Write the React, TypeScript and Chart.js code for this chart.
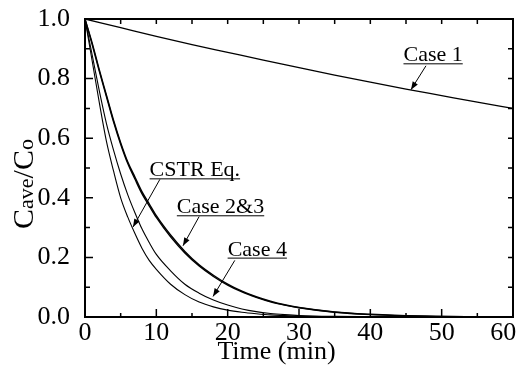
import React, { useEffect, useRef } from "react";
import { Chart, registerables } from "chart.js";
Chart.register(...registerables);

// Time axis (min) for the fast-decaying curves
const timeFine = [0, 1, 2, 3, 4, 5, 6, 7, 8, 9, 10, 12, 14, 16, 18, 20, 22, 24, 26, 28, 30, 35, 40, 45, 50, 55, 60];
const cstrEq = [1.0, 0.86, 0.72, 0.59, 0.49, 0.4, 0.335, 0.28, 0.23, 0.19, 0.16, 0.11, 0.075, 0.05, 0.034, 0.023, 0.016, 0.011, 0.007, 0.005, 0.003, 0.001, 0, 0, 0, 0, 0];
const case4 = [1.0, 0.88, 0.76, 0.65, 0.56, 0.48, 0.41, 0.35, 0.295, 0.25, 0.21, 0.155, 0.11, 0.08, 0.057, 0.04, 0.027, 0.018, 0.012, 0.008, 0.005, 0.002, 0.001, 0, 0, 0, 0];
const case2 = [1.0, 0.92, 0.83, 0.745, 0.66, 0.585, 0.52, 0.47, 0.42, 0.38, 0.34, 0.275, 0.22, 0.175, 0.14, 0.11, 0.087, 0.068, 0.053, 0.041, 0.032, 0.017, 0.009, 0.004, 0.002, 0.001, 0];
const case3 = [1.0, 0.915, 0.825, 0.74, 0.655, 0.58, 0.515, 0.463, 0.413, 0.373, 0.334, 0.269, 0.215, 0.171, 0.136, 0.107, 0.084, 0.066, 0.051, 0.04, 0.031, 0.016, 0.008, 0.004, 0.002, 0.001, 0];

// Case 1 (slow decay)
const timeCoarse = [0, 5, 10, 15, 20, 25, 30, 35, 40, 45, 50, 55, 60];
const case1 = [1.0, 0.971, 0.942, 0.914, 0.888, 0.862, 0.837, 0.812, 0.788, 0.765, 0.743, 0.721, 0.7];

// Annotations in data units: text centre/baseline, arrow start and tip
const annotations = [
  { text: "Case 1", tx: 48.8, ty: 0.858, ax: 47.8, ay: 0.843, bx: 45.7, by: 0.763 },
  { text: "CSTR Eq.", tx: 15.4, ty: 0.472, ax: 10.5, ay: 0.462, bx: 6.73, by: 0.302 },
  { text: "Case 2&3", tx: 19.0, ty: 0.348, ax: 16.0, ay: 0.337, bx: 13.74, by: 0.239 },
  { text: "Case 4", tx: 24.15, ty: 0.206, ax: 21.0, ay: 0.19, bx: 17.95, by: 0.069 },
];

const SERIF = "'Liberation Serif', 'Times New Roman', serif";

const pts = (xs: number[], ys: number[]) => xs.map((x, i) => ({ x, y: ys[i] }));

const framePlugin = {
  id: "framePlugin",
  afterDraw(chart: any) {
    const ctx = chart.ctx;
    const xs = chart.scales.x;
    const ys = chart.scales.y;
    const { left, right, top, bottom } = chart.chartArea;
    ctx.save();
    ctx.strokeStyle = "#000";
    // ticks
    ctx.lineWidth = 1.5;
    ctx.beginPath();
    for (let v = xs.min; v <= xs.max + 1e-9; v += 5) {
      const p = xs.getPixelForValue(v);
      const major = Math.abs(v % 10) < 1e-9;
      ctx.moveTo(p, bottom);
      ctx.lineTo(p, bottom - (major ? 8 : 4));
      ctx.moveTo(p, top);
      ctx.lineTo(p, top + 5);
    }
    for (let i = 0; i <= 10; i++) {
      const v = ys.min + i * 0.1;
      const p = ys.getPixelForValue(v);
      const major = i % 2 === 0;
      ctx.moveTo(left, p);
      ctx.lineTo(left + (major ? 8 : 5), p);
      ctx.moveTo(right, p);
      ctx.lineTo(right - 5, p);
    }
    ctx.stroke();
    // frame
    ctx.lineWidth = 2;
    ctx.strokeRect(left, top, right - left, bottom - top);

    // annotations
    ctx.font = `22px ${SERIF}`;
    ctx.fillStyle = "#000";
    ctx.textAlign = "center";
    ctx.textBaseline = "alphabetic";
    for (const a of annotations) {
      const tx = xs.getPixelForValue(a.tx);
      const ty = ys.getPixelForValue(a.ty);
      ctx.fillText(a.text, tx, ty);
      const w = ctx.measureText(a.text).width;
      ctx.lineWidth = 1;
      ctx.beginPath();
      ctx.moveTo(tx - w / 2, ty + 2.5);
      ctx.lineTo(tx + w / 2, ty + 2.5);
      ctx.stroke();
      const x1 = xs.getPixelForValue(a.ax);
      const y1 = ys.getPixelForValue(a.ay);
      const x2 = xs.getPixelForValue(a.bx);
      const y2 = ys.getPixelForValue(a.by);
      ctx.beginPath();
      ctx.moveTo(x1, y1);
      ctx.lineTo(x2, y2);
      ctx.stroke();
      const ang = Math.atan2(y2 - y1, x2 - x1);
      const L = 8, W = 3;
      ctx.beginPath();
      ctx.moveTo(x2, y2);
      ctx.lineTo(x2 - L * Math.cos(ang) + W * Math.sin(ang), y2 - L * Math.sin(ang) - W * Math.cos(ang));
      ctx.lineTo(x2 - L * Math.cos(ang) - W * Math.sin(ang), y2 - L * Math.sin(ang) + W * Math.cos(ang));
      ctx.closePath();
      ctx.fill();
    }

    // x-axis title
    ctx.font = `26px ${SERIF}`;
    ctx.textAlign = "center";
    ctx.fillText("Time (min)", 276.5, 359);

    // y-axis title with small letters
    const segs = [
      { t: "C", s: 30 },
      { t: "ave", s: 22 },
      { t: "/C", s: 30 },
      { t: "o", s: 22 },
    ];
    let total = 0;
    for (const sg of segs) {
      ctx.font = `${sg.s}px ${SERIF}`;
      total += ctx.measureText(sg.t).width;
    }
    ctx.translate(33, 184);
    ctx.rotate(-Math.PI / 2);
    ctx.textAlign = "left";
    let x = -total / 2;
    for (const sg of segs) {
      ctx.font = `${sg.s}px ${SERIF}`;
      ctx.fillText(sg.t, x, 0);
      x += ctx.measureText(sg.t).width;
    }
    ctx.restore();
  },
};

export default function App() {
  const ref = useRef<HTMLCanvasElement>(null);
  useEffect(() => {
    document.body.style.margin = "0";
    const canvas = ref.current!;
    const line = (label: string, data: any[], width: number) => ({
      label,
      data,
      borderColor: "#000",
      backgroundColor: "#000",
      borderWidth: width,
      pointRadius: 0,
      fill: false,
      cubicInterpolationMode: "monotone" as const,
    });
    const chart = new Chart(canvas, {
      type: "line",
      data: {
        datasets: [
          line("Case 1", pts(timeCoarse, case1), 1.3),
          line("CSTR Eq.", pts(timeFine, cstrEq), 1.1),
          line("Case 4", pts(timeFine, case4), 1.1),
          line("Case 2", pts(timeFine, case2), 1.4),
          line("Case 3", pts(timeFine, case3), 1.4),
        ],
      },
      options: {
        responsive: false,
        animation: false,
        layout: { padding: { top: 19, right: 11, left: 0, bottom: 0 } },
        plugins: { legend: { display: false }, tooltip: { enabled: false } },
        scales: {
          x: {
            type: "linear",
            min: 0,
            max: 60,
            grid: { display: false },
            border: { display: false },
            ticks: {
              stepSize: 10,
              color: "#000",
              font: { family: SERIF, size: 26 },
              padding: -7,
              maxRotation: 0,
              callback: (v: any) => (Number(v) === 60 ? "60   " : String(v)),
            },
            afterFit: (s: any) => {
              s.height = 52;
              s.paddingRight = 0;
              s.paddingLeft = 0;
            },
          },
          y: {
            type: "linear",
            min: 0,
            max: 1,
            grid: { display: false },
            border: { display: false },
            ticks: {
              stepSize: 0.2,
              color: "#000",
              font: { family: SERIF, size: 26 },
              padding: 7,
              callback: (v: any) => Number(v).toFixed(1),
            },
            afterFit: (s: any) => {
              s.width = 85;
              s.paddingTop = 0;
              s.paddingBottom = 0;
            },
          },
        },
      },
      plugins: [framePlugin],
    });
    return () => chart.destroy();
  }, []);
  return (
    <div style={{ width: 524, height: 369 }}>
      <canvas ref={ref} width={524} height={369} style={{ width: 524, height: 369, display: "block" }} />
    </div>
  );
}
